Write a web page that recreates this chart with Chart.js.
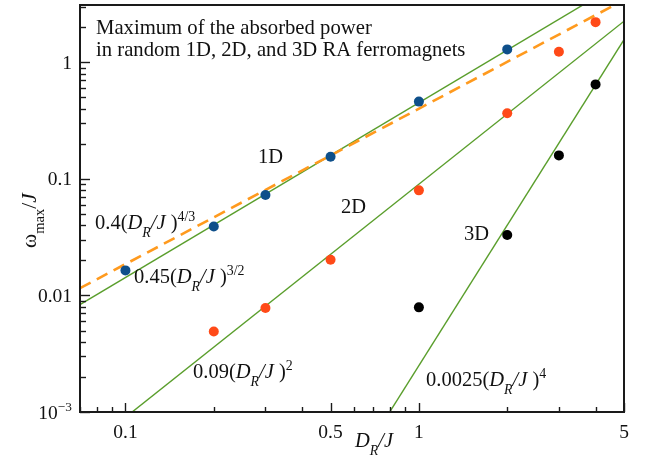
<!DOCTYPE html>
<html>
<head>
<meta charset="utf-8">
<script src="https://cdn.jsdelivr.net/npm/chart.js@4"></script>
<style>
  html, body { margin: 0; padding: 0; background: #fff; }
</style>
</head>
<body>
<canvas id="chart" width="661" height="458"></canvas>
<script>
// axis ranges
const xRange = [0.07, 5];
const yRange = [0.001, 3.1];

// measured maxima
const x1D = [0.1, 0.2, 0.3, 0.5, 1, 2];
const y1D = [0.0164, 0.039, 0.0727, 0.155, 0.46, 1.29];
const x2D = [0.2, 0.3, 0.5, 1, 2, 3, 4];
const y2D = [0.0049, 0.0078, 0.0202, 0.0797, 0.365, 1.23, 2.21];
const x3D = [1, 2, 3, 4];
const y3D = [0.0079, 0.033, 0.159, 0.646];

// power-law fits a*(D_R/J)^p
const fitCoef = [0.45, 0.09, 0.0025];
const fitPow = [1.5, 2, 4];
const dashCoef = 0.4;
const dashPow = 4 / 3;

// labelled ticks
const xTickLabels = [0.1, 0.5, 1, 5];
const yTickLabels = [0.001, 0.01, 0.1, 1];

const green = '#5a9e2c';
const serif = '"Liberation Serif", "Times New Roman", serif';

const pts = (xs, ys) => xs.map((v, i) => ({ x: v, y: ys[i] }));
const powLine = (a, p) => xRange.map(v => ({ x: v, y: a * Math.pow(v, p) }));

function drawRich(ctx, x0, y0, parts, size, align) {
    const fontOf = k => {
        const small = k === 'sub' || k === 'isub' || k === 'sup';
        return (k[0] === 'i' ? 'italic ' : '') + (small ? size * 0.68 : size).toFixed(1) + 'px ' + serif;
    };
    let w = 0;
    parts.forEach(([t, k]) => { ctx.font = fontOf(k); w += ctx.measureText(t).width; });
    let x = align === 'right' ? x0 - w : align === 'center' ? x0 - w / 2 : x0;
    parts.forEach(([t, k]) => {
        ctx.font = fontOf(k);
        let dy = 0;
        if (k === 'sub' || k === 'isub') dy = size * 0.38;
        if (k === 'sup') dy = -size * 0.4;
        ctx.fillText(t, x, y0 + dy);
        x += ctx.measureText(t).width;
    });
}

const DRJ = [['D', 'i'], ['R', 'isub'], ['/J', 'i']];

const decor = {
    id: 'decor',
    afterDraw(chart) {
        const { ctx, chartArea: a, scales: { x, y } } = chart;
        ctx.save();
        ctx.fillStyle = '#111';
        ctx.strokeStyle = '#1a1a1a';
        ctx.textBaseline = 'alphabetic';

        // inside ticks
        ctx.lineWidth = 1.4;
        for (let d = -3; d <= 0; d++) {
            for (let m = 1; m <= 9; m++) {
                const v = parseFloat((m * Math.pow(10, d)).toPrecision(3));
                if (v >= xRange[0] && v <= xRange[1]) {
                    const px = Math.round(x.getPixelForValue(v)) + 0.5;
                    const len = xTickLabels.includes(v) ? 9 : 5;
                    ctx.beginPath(); ctx.moveTo(px, a.bottom); ctx.lineTo(px, a.bottom - len); ctx.stroke();
                }
                if (v >= yRange[0] && v <= yRange[1]) {
                    const py = Math.round(y.getPixelForValue(v)) + 0.5;
                    const len = yTickLabels.includes(v) ? 10 : 6;
                    ctx.beginPath(); ctx.moveTo(a.left, py); ctx.lineTo(a.left + len, py); ctx.stroke();
                }
            }
        }

        // frame
        ctx.lineWidth = 2;
        ctx.strokeRect(a.left, a.top, a.right - a.left, a.bottom - a.top);

        // tick labels
        xTickLabels.forEach(v => {
            drawRich(ctx, x.getPixelForValue(v), a.bottom + 26, [[String(v), 'n']], 19.5, 'center');
        });
        yTickLabels.forEach(v => {
            const py = y.getPixelForValue(v) + 6.5;
            const parts = v === 0.001 ? [['10', 'n'], ['\u22123', 'sup']] : [[String(v), 'n']];
            drawRich(ctx, a.left - 8, py, parts, 19.5, 'right');
        });

        // axis titles
        drawRich(ctx, 355, 447, DRJ, 20.5, 'left');
        ctx.save();
        ctx.translate(36, 248);
        ctx.rotate(-Math.PI / 2);
        drawRich(ctx, 0, 0, [['\u03c9', 'n'], ['max', 'sub'], ['/', 'n'], ['J', 'i']], 21.5, 'left');
        ctx.restore();

        // annotations
        drawRich(ctx, 96, 34, [['Maximum of the absorbed power', 'n']], 20.7, 'left');
        drawRich(ctx, 96, 56, [['in random 1D, 2D, and 3D RA ferromagnets', 'n']], 20.7, 'left');
        drawRich(ctx, 258, 163, [['1D', 'n']], 20.5, 'left');
        drawRich(ctx, 341, 213, [['2D', 'n']], 20.5, 'left');
        drawRich(ctx, 464, 240, [['3D', 'n']], 20.5, 'left');
        drawRich(ctx, 95, 229, [['0.4(', 'n'], ...DRJ, [' )', 'n'], ['4/3', 'sup']], 20.5, 'left');
        drawRich(ctx, 134, 283, [['0.45(', 'n'], ...DRJ, [' )', 'n'], ['3/2', 'sup']], 20.5, 'left');
        drawRich(ctx, 193, 378, [['0.09(', 'n'], ...DRJ, [' )', 'n'], ['2', 'sup']], 20.5, 'left');
        drawRich(ctx, 426, 386, [['0.0025(', 'n'], ...DRJ, [' )', 'n'], ['4', 'sup']], 20.5, 'left');
        ctx.restore();
    }
};

const lineSets = fitCoef.map((c, i) => ({
    type: 'line',
    data: powLine(c, fitPow[i]),
    borderColor: green,
    borderWidth: 1.4,
    pointRadius: 0,
    order: 2
}));

const dotSet = (xs, ys, color) => ({
    type: 'scatter',
    data: pts(xs, ys),
    backgroundColor: color,
    borderWidth: 0,
    pointRadius: 5,
    order: 0
});

new Chart(document.getElementById('chart').getContext('2d'), {
    data: {
        datasets: [
            ...lineSets,
            {
                type: 'line',
                data: powLine(dashCoef, dashPow),
                borderColor: '#ff9a1e',
                borderWidth: 2.6,
                borderDash: [12, 7],
                pointRadius: 0,
                order: 1
            },
            dotSet(x1D, y1D, '#0e4f8a'),
            dotSet(x2D, y2D, '#ff4a18'),
            dotSet(x3D, y3D, '#000000')
        ]
    },
    options: {
        responsive: false,
        animation: false,
        layout: { padding: { left: 80, right: 37, top: 3, bottom: 46 } },
        plugins: { legend: { display: false }, tooltip: { enabled: false } },
        scales: {
            x: { type: 'logarithmic', display: false, min: xRange[0], max: xRange[1] },
            y: { type: 'logarithmic', display: false, min: yRange[0], max: yRange[1] }
        }
    },
    plugins: [decor]
});
</script>
</body>
</html>
